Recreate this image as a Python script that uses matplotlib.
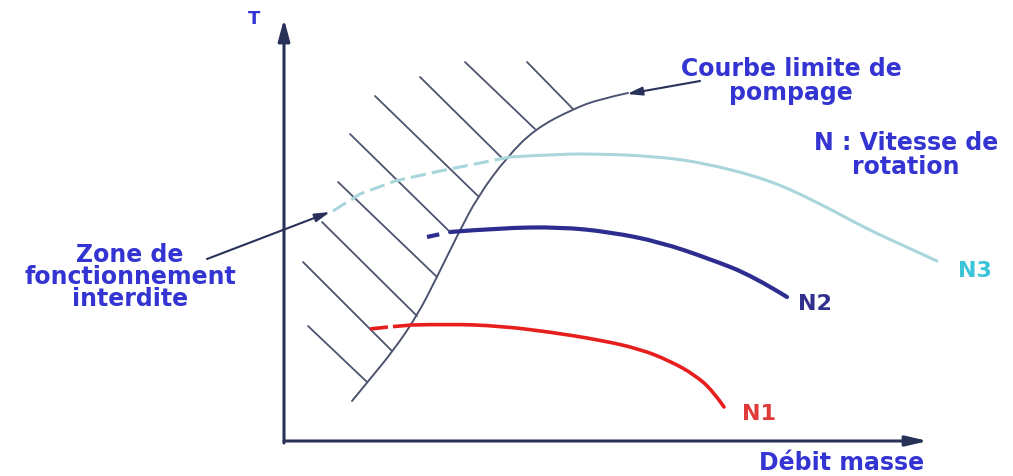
import matplotlib
matplotlib.use('Agg')
import matplotlib.pyplot as plt
from matplotlib.path import Path
from matplotlib.patches import PathPatch
import numpy as np


# schematic coordinates: x = débit masse, y = T (arbitrary units, origin at the axes corner)
surge_x = [67, 85, 108, 132, 152, 172, 193, 222, 250, 288, 315, 343]
surge_y = [40, 62, 90, 125, 164, 205, 245, 284, 312, 332, 342, 348]

# hatching of the forbidden zone (start -> end on the surge line)
hatch_x0 = [242, 180, 135, 90, 65, 53, 37, 18, 23]
hatch_y0 = [379, 379, 364, 345, 307, 259, 219, 179, 115]
hatch_x1 = [288, 250, 218, 193, 165, 152, 132, 107, 82]
hatch_y1 = [332, 312, 282, 245, 209, 164, 125, 90, 59]

n3_dash_x = [48, 75, 110, 155, 195, 225]
n3_dash_y = [230, 247, 260, 270, 278, 284]
n3_x = [225, 275, 315, 365, 415, 482, 532, 582, 615, 652]
n3_y = [284, 287, 287, 285, 279, 262, 239, 212, 197, 180]

n2_dash_x = [142, 165]
n2_dash_y = [204, 209]
n2_x = [165, 215, 275, 325, 375, 425, 468, 502]
n2_y = [209, 213, 214, 209, 199, 182, 165, 144]

n1_dash_x = [85, 103, 127]
n1_dash_y = [112, 114, 116]
n1_x = [127, 165, 215, 265, 315, 355, 385, 410, 428, 439]
n1_y = [116, 117, 115, 109, 101, 92, 80, 66, 50, 34]

axis_color = '#283259'
hatch_color = '#4d5470'
text_blue = '#3434d2'


def smooth_path(x, y):
    pts = np.column_stack([x, y]).astype(float)
    verts = [pts[0]]
    codes = [Path.MOVETO]
    for i in range(1, len(pts) - 1):
        end = (pts[i] + pts[i + 1]) / 2 if i < len(pts) - 2 else pts[i + 1]
        verts += [pts[i], end]
        codes += [Path.CURVE3, Path.CURVE3]
    return Path(verts, codes)


def curve(ax, x, y, **kw):
    ax.add_patch(PathPatch(smooth_path(x, y), fill=False, capstyle='round', **kw))


fig = plt.figure(figsize=(10.13, 4.77), dpi=100)
ax = fig.add_axes([0, 0, 1, 1])
ax.set_xlim(-285, 728)
ax.set_ylim(-35, 442)
ax.axis('off')

# axes arrows
ax.annotate('', xy=(-1, 422), xytext=(-1, -2),
            arrowprops=dict(arrowstyle='-|>,head_length=1.3,head_width=0.35',
                            color=axis_color, lw=2.2, shrinkA=0, shrinkB=0))
ax.annotate('', xy=(643, 0), xytext=(-1, 0),
            arrowprops=dict(arrowstyle='-|>,head_length=1.3,head_width=0.3',
                            color=axis_color, lw=2.2, shrinkA=0, shrinkB=0))

# hatching and surge line
for x0, y0, x1, y1 in zip(hatch_x0, hatch_y0, hatch_x1, hatch_y1):
    ax.plot([x0, x1], [y0, y1], color=hatch_color, lw=1.3, solid_capstyle='round')
curve(ax, surge_x, surge_y, edgecolor=hatch_color, lw=1.4)

# speed lines
ax.plot(n3_dash_x, n3_dash_y, color='#a9d6da', lw=2.2, linestyle=(0, (5, 2)))
curve(ax, n3_x, n3_y, edgecolor='#a9d6da', lw=2.2)
ax.plot(n2_dash_x, n2_dash_y, color='#2d2d8f', lw=3.0, linestyle=(0, (3, 2.5)))
curve(ax, n2_x, n2_y, edgecolor='#2d2d8f', lw=3.0)
ax.plot(n1_dash_x, n1_dash_y, color='#e61e1e', lw=2.6, linestyle=(0, (5, 1.4)))
curve(ax, n1_x, n1_y, edgecolor='#e61e1e', lw=2.6)

font = dict(family='DejaVu Sans', weight='bold')

ax.text(-31, 423, 'T', color=text_blue, fontsize=13, ha='center', va='center', **font)
ax.text(557, -21, 'Débit masse', color=text_blue, fontsize=17, ha='center', va='center', **font)
ax.text(506, 361, 'Courbe limite de\npompage', color=text_blue, fontsize=17,
        ha='center', va='center', linespacing=1.05, **font)
ax.text(621, 287, 'N : Vitesse de\nrotation', color=text_blue, fontsize=17,
        ha='center', va='center', linespacing=1.0, **font)
ax.text(-155, 165, 'Zone de\nfonctionnement\ninterdite', color=text_blue, fontsize=17,
        ha='center', va='center', linespacing=0.9, **font)

ax.text(690, 171, 'N3', color='#3cc4d8', fontsize=16, ha='center', va='center', **font)
ax.text(530, 138, 'N2', color='#30308f', fontsize=16, ha='center', va='center', **font)
ax.text(474, 28, 'N1', color='#e03a3a', fontsize=16, ha='center', va='center', **font)

# label arrows
ax.annotate('', xy=(342, 347), xytext=(415, 360),
            arrowprops=dict(arrowstyle='-|>,head_length=0.9,head_width=0.25',
                            color=axis_color, lw=1.5, shrinkA=0, shrinkB=0))
ax.annotate('', xy=(45, 229), xytext=(-78, 182),
            arrowprops=dict(arrowstyle='-|>,head_length=0.9,head_width=0.25',
                            color=axis_color, lw=1.5, shrinkA=0, shrinkB=0))

fig.savefig('out.png', dpi=100)
